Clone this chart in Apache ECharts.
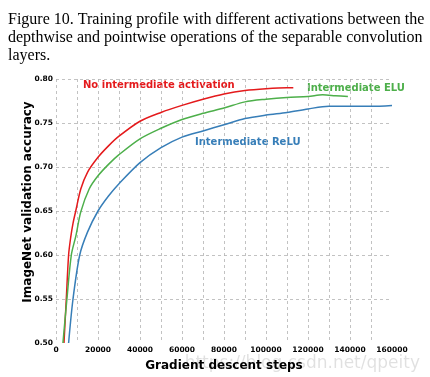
<!DOCTYPE html>
<html>
<head>
<meta charset="utf-8">
<script src="https://cdn.jsdelivr.net/npm/echarts@6/dist/echarts.min.js"></script>
<style>
  html, body { margin: 0; padding: 0; background: #fff; }
  #main { width: 430px; height: 377px; }
</style>
</head>
<body>
<div id="main"></div>
<script>
// curve samples (steps, accuracy)
var noActSteps = [3800, 4900, 6000, 7000, 8100, 9400, 11800, 15000, 20000, 25000, 30000, 40000, 50000, 60000, 70000, 80000, 90000, 100000, 110000, 113000];
var noActAcc   = [0.500, 0.550, 0.600, 0.620, 0.636, 0.650, 0.675, 0.694, 0.711, 0.724, 0.735, 0.752, 0.762, 0.770, 0.777, 0.783, 0.787, 0.789, 0.790, 0.790];

var eluSteps = [3300, 5200, 7300, 9500, 11800, 15800, 20000, 25000, 30000, 40000, 50000, 60000, 70000, 80000, 90000, 100000, 110000, 120000, 127000, 133000, 139000];
var eluAcc   = [0.500, 0.550, 0.600, 0.622, 0.649, 0.675, 0.690, 0.703, 0.714, 0.732, 0.744, 0.754, 0.761, 0.767, 0.774, 0.777, 0.779, 0.780, 0.782, 0.781, 0.780];

var reluSteps = [6000, 8100, 11300, 15000, 20000, 25000, 30000, 40000, 50000, 60000, 70000, 80000, 90000, 100000, 110000, 120000, 130000, 140000, 150000, 160000];
var reluAcc   = [0.500, 0.550, 0.600, 0.626, 0.650, 0.667, 0.681, 0.705, 0.722, 0.734, 0.741, 0.748, 0.755, 0.759, 0.762, 0.766, 0.769, 0.769, 0.769, 0.770];

var captionLines = [
  'Figure 10. Training profile with different activations between the',
  'depthwise and pointwise operations of the separable convolution',
  'layers.'
];

function pairs(xs, ys) {
  return xs.map(function (x, i) { return [x, ys[i]]; });
}

var chart = echarts.init(document.getElementById('main'));

var tickFont = { fontFamily: 'DejaVu Sans', fontWeight: 'bold', fontSize: 7.5, color: '#000' };
var gridLine = { show: true, lineStyle: { color: '#b3b3b3', type: [3, 3], width: 0.8 } };

var graphics = captionLines.map(function (t, i) {
  return {
    type: 'text', left: 8, top: 12 + i * 18,
    style: { text: t, font: '16px "Liberation Serif"', fill: '#000' }
  };
});
graphics.push(
  // y axis title, placed by hand (it sits a bit above the plot's middle)
  { type: 'text', x: 28, y: 202, rotation: Math.PI / 2,
    style: { text: 'ImageNet validation accuracy', font: 'bold 12px "DejaVu Sans"', fill: '#000', align: 'center', verticalAlign: 'middle' } },
  { type: 'text', left: 83, top: 80, style: { text: 'No intermediate activation', font: 'bold 10px "DejaVu Sans"', fill: '#e41a1c' } },
  { type: 'text', left: 307, top: 83, style: { text: 'Intermediate ELU', font: 'bold 10px "DejaVu Sans"', fill: '#4daf4a' } },
  { type: 'text', left: 195, top: 137, style: { text: 'Intermediate ReLU', font: 'bold 10px "DejaVu Sans"', fill: '#377eb8' } },
  { type: 'text', right: 10, top: 355, style: { text: 'https://blog.csdn.net/qpeity', font: '17px "DejaVu Sans"', fill: 'rgba(0,0,0,0.12)' } }
);

chart.setOption({
  animation: false,
  grid: { left: 56, right: 38, top: 79, bottom: 34, containLabel: false },
  xAxis: {
    type: 'value', min: 0, max: 160000, interval: 10000,
    name: 'Gradient descent steps', nameLocation: 'middle', nameGap: 17,
    nameTextStyle: { fontFamily: 'DejaVu Sans', fontWeight: 'bold', fontSize: 12, color: '#000' },
    axisLine: { show: false }, axisTick: { show: false },
    axisLabel: Object.assign({ margin: 3, formatter: function (v) { return v % 20000 === 0 ? String(v) : ''; } }, tickFont),
    splitLine: Object.assign({ showMaxLine: false }, gridLine)
  },
  yAxis: {
    type: 'value', min: 0.5, max: 0.8, interval: 0.05,
    axisLine: { show: false }, axisTick: { show: false },
    axisLabel: Object.assign({ margin: 3, formatter: function (v) { return v.toFixed(2); } }, tickFont),
    splitLine: Object.assign({ showMinLine: false }, gridLine)
  },
  series: [
    { name: 'No intermediate activation', type: 'line', data: pairs(noActSteps, noActAcc), smooth: 0.3, showSymbol: false, clip: true, lineStyle: { color: '#e41a1c', width: 1.5 } },
    { name: 'Intermediate ELU', type: 'line', data: pairs(eluSteps, eluAcc), smooth: 0.3, showSymbol: false, clip: true, lineStyle: { color: '#4daf4a', width: 1.5 } },
    { name: 'Intermediate ReLU', type: 'line', data: pairs(reluSteps, reluAcc), smooth: 0.3, showSymbol: false, clip: true, lineStyle: { color: '#377eb8', width: 1.5 } }
  ],
  graphic: graphics
});
</script>
</body>
</html>
